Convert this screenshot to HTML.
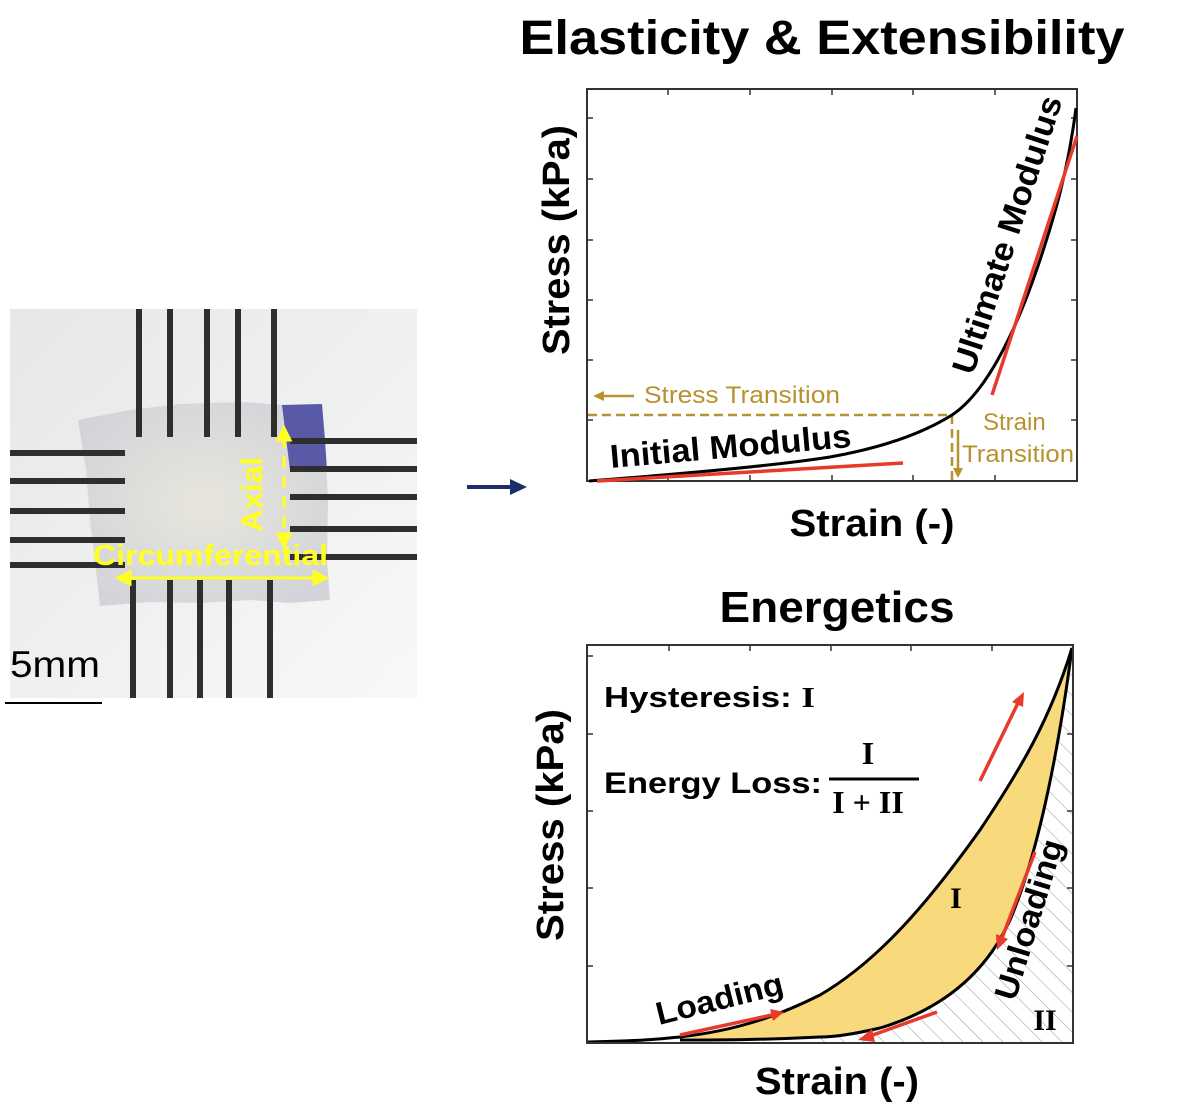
<!DOCTYPE html>
<html><head><meta charset="utf-8"><style>
html,body{margin:0;padding:0;background:#fff;}
svg{display:block;}
text{font-family:"Liberation Sans",Arial,sans-serif;}
text.s, tspan.s{font-family:"Liberation Serif","Times New Roman",serif;}
</style></head><body>
<svg width="1200" height="1114" viewBox="0 0 1200 1114" xmlns="http://www.w3.org/2000/svg">
<defs>
<linearGradient id="bg" x1="0" y1="0" x2="1" y2="1">
<stop offset="0" stop-color="#e6e8e8"/><stop offset="1" stop-color="#f7f8f8"/></linearGradient>
<radialGradient id="tis" cx="0.5" cy="0.5" r="0.6">
<stop offset="0" stop-color="#e8e6dc"/><stop offset="1" stop-color="#d2d4da"/></radialGradient>
<pattern id="hatch" width="14" height="14" patternUnits="userSpaceOnUse" patternTransform="rotate(-45)">
<line x1="0" y1="0" x2="0" y2="14" stroke="#999" stroke-width="1"/></pattern>
<clipPath id="c2"><rect x="587" y="645" width="486" height="398"/></clipPath>
</defs>
<!-- photo -->
<rect x="10" y="309" width="407" height="389" fill="url(#bg)"/>
<path d="M78,420 L130,410 L180,404 L240,402 L285,405 L322,404 L325,440 L328,500 L327,560 L330,600 L290,603 L250,600 L200,603 L150,602 L100,606 L96,570 L90,520 L86,470 Z" fill="url(#tis)"/>
<path d="M282,405 L322,404 L325,440 L327,470 L290,470 Z" fill="#3a3a9a" opacity="0.8"/>
<g fill="#2e2e2e">
<rect x="136" y="309" width="6" height="128"/><rect x="167" y="309" width="6" height="128"/><rect x="204" y="309" width="6" height="128"/><rect x="235" y="309" width="6" height="128"/><rect x="271" y="309" width="6" height="128"/>
<rect x="130" y="580" width="6" height="118"/><rect x="167" y="580" width="6" height="118"/><rect x="197" y="580" width="6" height="118"/><rect x="226" y="580" width="6" height="118"/><rect x="267" y="580" width="6" height="118"/>
<rect x="10" y="450" width="115" height="6"/><rect x="10" y="478" width="115" height="6"/><rect x="10" y="508" width="115" height="6"/><rect x="10" y="537" width="115" height="6"/><rect x="10" y="562" width="115" height="6"/>
<rect x="290" y="438" width="127" height="6"/><rect x="290" y="466" width="127" height="6"/><rect x="290" y="494" width="127" height="6"/><rect x="290" y="526" width="127" height="6"/><rect x="290" y="554" width="127" height="6"/>
</g>
<g stroke="#ffff22" stroke-width="3" fill="#ffff22">
<line x1="284" y1="436" x2="284" y2="538" stroke-dasharray="12,8"/>
<path d="M278,440 L284,428 L290,440 Z"/><path d="M278,534 L284,546 L290,534 Z"/>
<line x1="126" y1="578" x2="318" y2="578"/>
<path d="M130,572 L118,578 L130,584 Z"/><path d="M314,572 L326,578 L314,584 Z"/>
</g>
<text transform="translate(262,532) rotate(-90)" font-size="30" font-weight="bold" fill="#ffff22" textLength="75" lengthAdjust="spacingAndGlyphs">Axial</text>
<text x="93" y="565" font-size="29" font-weight="bold" fill="#ffff22" textLength="235" lengthAdjust="spacingAndGlyphs">Circumferential</text>
<text x="10" y="677" font-size="37" fill="#000" textLength="90" lengthAdjust="spacingAndGlyphs">5mm</text>
<line x1="5" y1="703" x2="102" y2="703" stroke="#000" stroke-width="2"/>
<!-- navy arrow -->
<line x1="467" y1="487" x2="515" y2="487" stroke="#1a2e6a" stroke-width="4"/>
<path d="M510,479 L527,487 L510,495 Z" fill="#1a2e6a"/>

<!-- Chart 1 -->
<text x="822" y="54" font-size="48" font-weight="bold" text-anchor="middle" textLength="605" lengthAdjust="spacingAndGlyphs">Elasticity &amp; Extensibility</text>
<rect x="587" y="89" width="490" height="392" fill="none" stroke="#333" stroke-width="2"/>
<g stroke="#333" stroke-width="1.5">
<line x1="668" y1="89" x2="668" y2="95"/><line x1="750" y1="89" x2="750" y2="95"/><line x1="832" y1="89" x2="832" y2="95"/><line x1="913" y1="89" x2="913" y2="95"/><line x1="995" y1="89" x2="995" y2="95"/>
<line x1="668" y1="481" x2="668" y2="475"/><line x1="750" y1="481" x2="750" y2="475"/><line x1="832" y1="481" x2="832" y2="475"/><line x1="913" y1="481" x2="913" y2="475"/><line x1="995" y1="481" x2="995" y2="475"/>
<line x1="587" y1="118" x2="593" y2="118"/><line x1="587" y1="179" x2="593" y2="179"/><line x1="587" y1="240" x2="593" y2="240"/><line x1="587" y1="300" x2="593" y2="300"/><line x1="587" y1="360" x2="593" y2="360"/><line x1="587" y1="420" x2="593" y2="420"/>
<line x1="1077" y1="118" x2="1071" y2="118"/><line x1="1077" y1="179" x2="1071" y2="179"/><line x1="1077" y1="240" x2="1071" y2="240"/><line x1="1077" y1="300" x2="1071" y2="300"/><line x1="1077" y1="360" x2="1071" y2="360"/><line x1="1077" y1="420" x2="1071" y2="420"/>
</g>
<g stroke="#b8922e" stroke-width="2.5" fill="none">
<line x1="588" y1="415" x2="952" y2="415" stroke-dasharray="9,5"/>
<line x1="952" y1="415" x2="952" y2="480" stroke-dasharray="9,5"/>
<line x1="958" y1="430" x2="958" y2="470"/>
<line x1="600" y1="396" x2="634" y2="396"/>
</g>
<path d="M953,468 L958,478 L963,468 Z" fill="#b8922e"/>
<path d="M604,391 L593,396 L604,401 Z" fill="#b8922e"/>
<text x="644" y="403" font-size="24" fill="#b8922e" textLength="196" lengthAdjust="spacingAndGlyphs">Stress Transition</text>
<text x="983" y="430" font-size="24" fill="#b8922e">Strain</text>
<text x="962" y="462" font-size="24" fill="#b8922e" textLength="112" lengthAdjust="spacingAndGlyphs">Transition</text>
<path d="M589,481 C680,474 780,465 830,457 C880,448 920,435 952,415 C990,390 1020,320 1040,260 C1055,215 1068,170 1076,108" fill="none" stroke="#000" stroke-width="3"/>
<line x1="597" y1="481" x2="903" y2="463" stroke="#e83a2a" stroke-width="3.5"/>
<line x1="992" y1="395" x2="1077" y2="136" stroke="#e83a2a" stroke-width="3.5"/>
<text transform="translate(611,468) rotate(-5)" font-size="33" font-weight="bold" textLength="242" lengthAdjust="spacingAndGlyphs">Initial Modulus</text>
<text transform="translate(973,376) rotate(-72)" font-size="33" font-weight="bold" textLength="290" lengthAdjust="spacingAndGlyphs">Ultimate Modulus</text>
<text transform="translate(569,240) rotate(-90)" font-size="38" font-weight="bold" text-anchor="middle" textLength="230" lengthAdjust="spacingAndGlyphs">Stress (kPa)</text>
<text x="872" y="536" font-size="38" font-weight="bold" text-anchor="middle" textLength="165" lengthAdjust="spacingAndGlyphs">Strain (-)</text>

<!-- Chart 2 -->
<text x="837" y="622" font-size="44" font-weight="bold" text-anchor="middle" textLength="235" lengthAdjust="spacingAndGlyphs">Energetics</text>
<g clip-path="url(#c2)">
<path d="M1072,648 C1060,740 1040,850 1010,920 C985,975 940,1010 880,1028 C850,1035 830,1037 820,1037 L820,1043 L1073,1043 Z" fill="url(#hatch)"/>
<path d="M680,1037 C740,1030 780,1015 820,995 C880,960 930,900 980,830 C1020,770 1050,720 1072,648 C1060,740 1040,850 1010,920 C985,975 940,1010 880,1028 C850,1035 830,1037 820,1037 C760,1040 720,1040 680,1037 Z" fill="#f8d97c"/>
<path d="M588,1042 C640,1041 660,1039 680,1037 C740,1030 780,1015 820,995 C880,960 930,900 980,830 C1020,770 1050,720 1072,648" fill="none" stroke="#000" stroke-width="3"/>
<path d="M1072,648 C1060,740 1040,850 1010,920 C985,975 940,1010 880,1028 C850,1035 830,1037 820,1037 C760,1040 720,1040 680,1040" fill="none" stroke="#000" stroke-width="3"/>
</g>
<rect x="587" y="645" width="486" height="398" fill="none" stroke="#333" stroke-width="2"/>
<g stroke="#333" stroke-width="1.5">
<line x1="669" y1="645" x2="669" y2="651"/><line x1="750" y1="645" x2="750" y2="651"/><line x1="831" y1="645" x2="831" y2="651"/><line x1="911" y1="645" x2="911" y2="651"/><line x1="992" y1="645" x2="992" y2="651"/>
<line x1="587" y1="656" x2="593" y2="656"/><line x1="587" y1="734" x2="593" y2="734"/><line x1="587" y1="811" x2="593" y2="811"/><line x1="587" y1="888" x2="593" y2="888"/><line x1="587" y1="966" x2="593" y2="966"/>
<line x1="1073" y1="734" x2="1067" y2="734"/><line x1="1073" y1="811" x2="1067" y2="811"/><line x1="1073" y1="888" x2="1067" y2="888"/><line x1="1073" y1="966" x2="1067" y2="966"/>
</g>
<g stroke="#e83a2a" stroke-width="3.5" fill="#e83a2a">
<line x1="680" y1="1035" x2="772" y2="1015"/><path d="M770,1009 L784,1012 L773,1021 Z" stroke="none"/>
<line x1="980" y1="781" x2="1018" y2="703"/><path d="M1012,702 L1024,692 L1023,707 Z" stroke="none"/>
<line x1="1035" y1="852" x2="1002" y2="938"/><path d="M996,934 L997,950 L1008,939 Z" stroke="none"/>
<line x1="937" y1="1012" x2="870" y2="1036"/><path d="M872,1029 L858,1040 L875,1042 Z" stroke="none"/>
</g>
<text x="604" y="707" font-size="29" font-weight="bold" textLength="211" lengthAdjust="spacingAndGlyphs">Hysteresis: <tspan class="s">I</tspan></text>
<text x="604" y="793" font-size="30" font-weight="bold" textLength="218" lengthAdjust="spacingAndGlyphs">Energy Loss:</text>
<line x1="829" y1="779" x2="919" y2="779" stroke="#000" stroke-width="3"/>
<text class="s" x="868" y="764" font-size="32" font-weight="bold" text-anchor="middle">I</text>
<text class="s" x="868" y="813" font-size="32" font-weight="bold" text-anchor="middle">I + II</text>
<text class="s" x="956" y="908" font-size="30" font-weight="bold" text-anchor="middle">I</text>
<text class="s" x="1045" y="1030" font-size="30" font-weight="bold" text-anchor="middle">II</text>
<text transform="translate(659,1025) rotate(-14)" font-size="32" font-weight="bold" textLength="130" lengthAdjust="spacingAndGlyphs">Loading</text>
<text transform="translate(1015,1002) rotate(-73)" font-size="32" font-weight="bold" textLength="166" lengthAdjust="spacingAndGlyphs">Unloading</text>
<text transform="translate(563,825) rotate(-90)" font-size="38" font-weight="bold" text-anchor="middle" textLength="232" lengthAdjust="spacingAndGlyphs">Stress (kPa)</text>
<text x="837" y="1094" font-size="38" font-weight="bold" text-anchor="middle" textLength="164" lengthAdjust="spacingAndGlyphs">Strain (-)</text>
</svg>
</body></html>
